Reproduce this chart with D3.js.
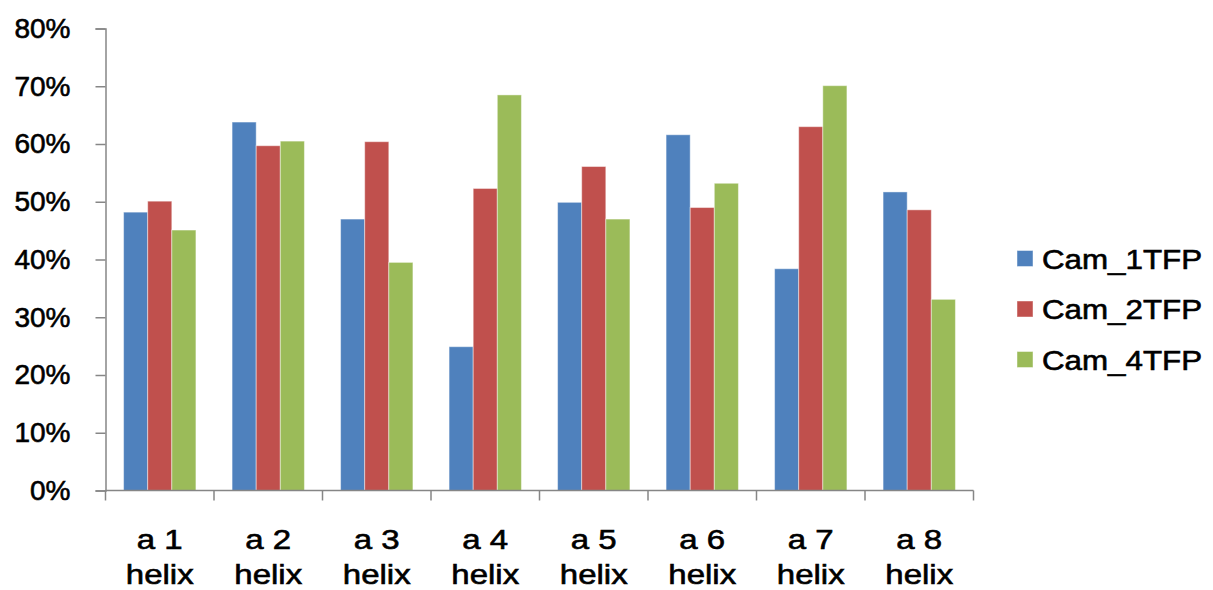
<!DOCTYPE html>
<html>
<head>
<meta charset="utf-8">
<script src="https://cdn.jsdelivr.net/npm/d3@7"></script>
<style>
  html, body { margin: 0; padding: 0; background: #fff; }
  svg { display: block; }
  text { font-family: "Liberation Sans", Arial, sans-serif; fill: #000; stroke: #000; stroke-width: 0.6px; }
</style>
</head>
<body>
<svg id="chart" width="1213" height="590"></svg>
<script>
// Helix categories (two-line labels) and the three series, in percent
const categories = ["a 1", "a 2", "a 3", "a 4", "a 5", "a 6", "a 7", "a 8"];
const categorySub = ["helix", "helix", "helix", "helix", "helix", "helix", "helix", "helix"];
const seriesNames = ["Cam_1TFP", "Cam_2TFP", "Cam_4TFP"];
const cam1 = [48.2, 63.8, 47.0, 24.9, 49.9, 61.6, 38.4, 51.7];
const cam2 = [50.1, 59.7, 60.4, 52.3, 56.1, 49.0, 63.0, 48.6];
const cam4 = [45.1, 60.5, 39.5, 68.5, 47.0, 53.2, 70.1, 33.1];
const yTicks = [0, 10, 20, 30, 40, 50, 60, 70, 80];
const seriesColors = ["#4F81BD", "#C0504D", "#9BBB59"];

const series = [cam1, cam2, cam4];

const svg = d3.select("#chart");
const plot = { left: 105.5, right: 973.5, top: 28.5, bottom: 490.5 };

const x = d3.scaleBand()
  .domain(categories)
  .range([plot.left, plot.right])
  .paddingInner(0)
  .paddingOuter(0);

const xInner = d3.scaleBand()
  .domain(d3.range(series.length))
  .range([0, x.bandwidth()])
  .paddingOuter(0.75)
  .paddingInner(0);

const y = d3.scaleLinear().domain([0, 80]).range([plot.bottom, plot.top]);

// Bars
const groups = svg.append("g")
  .selectAll("g")
  .data(categories)
  .join("g")
  .attr("transform", d => `translate(${x(d)},0)`);

groups.selectAll("rect")
  .data((d, i) => series.map((s, k) => ({ k, v: s[i] })))
  .join("rect")
  .attr("x", d => xInner(d.k))
  .attr("width", xInner.bandwidth())
  .attr("y", d => y(d.v))
  .attr("height", d => y(0) - y(d.v))
  .attr("fill", d => seriesColors[d.k])
  .attr("stroke", "rgba(255,255,255,0.45)")
  .attr("stroke-width", 1);

// Y axis
const yAxis = svg.append("g")
  .attr("transform", `translate(${plot.left},0)`)
  .call(d3.axisLeft(y).tickValues(yTicks).tickFormat(d => d + "%").tickSize(10).tickPadding(25));
yAxis.select(".domain").attr("stroke", "#868686").attr("stroke-width", 1.5);
yAxis.selectAll(".tick line").attr("stroke", "#868686").attr("stroke-width", 1.5);
yAxis.selectAll(".tick text")
  .style("font-family", '"Liberation Sans", Arial, sans-serif')
  .style("font-size", "28px")
  .attr("fill", "#000");

// X axis with ticks on category boundaries
const xAxisG = svg.append("g").attr("transform", `translate(0,${plot.bottom})`);
xAxisG.append("line")
  .attr("x1", plot.left).attr("x2", plot.right)
  .attr("stroke", "#868686").attr("stroke-width", 1.5);
const boundaries = categories.map(c => x(c)).concat([x(categories[categories.length - 1]) + x.bandwidth()]);
xAxisG.selectAll("line.tick")
  .data(boundaries)
  .join("line")
  .attr("class", "tick")
  .attr("x1", d => d).attr("x2", d => d)
  .attr("y1", 0).attr("y2", 10)
  .attr("stroke", "#868686").attr("stroke-width", 1.5);

// Two-line category labels, set slightly wide
const labels = svg.append("g")
  .selectAll("text")
  .data(categories)
  .join("text")
  .attr("text-anchor", "middle")
  .attr("transform", d => `translate(${x(d) + x.bandwidth() / 2},0) scale(1.2,1)`)
  .style("font-size", "27.5px");
labels.append("tspan").attr("x", 0).attr("y", 549).text(d => d);
labels.append("tspan").attr("x", 0).attr("y", 584).text((d, i) => categorySub[i]);

// Legend
const legend = svg.append("g")
  .selectAll("g")
  .data(seriesNames)
  .join("g")
  .attr("transform", (d, i) => `translate(1017,${250.5 + i * 50.5})`);
legend.append("rect")
  .attr("width", 16).attr("height", 16)
  .attr("fill", (d, i) => seriesColors[i])
  .attr("stroke", "rgba(255,255,255,0.45)");
legend.append("text")
  .attr("transform", "translate(25,18) scale(1.16,1)")
  .style("font-size", "27px")
  .text(d => d);
</script>
</body>
</html>
